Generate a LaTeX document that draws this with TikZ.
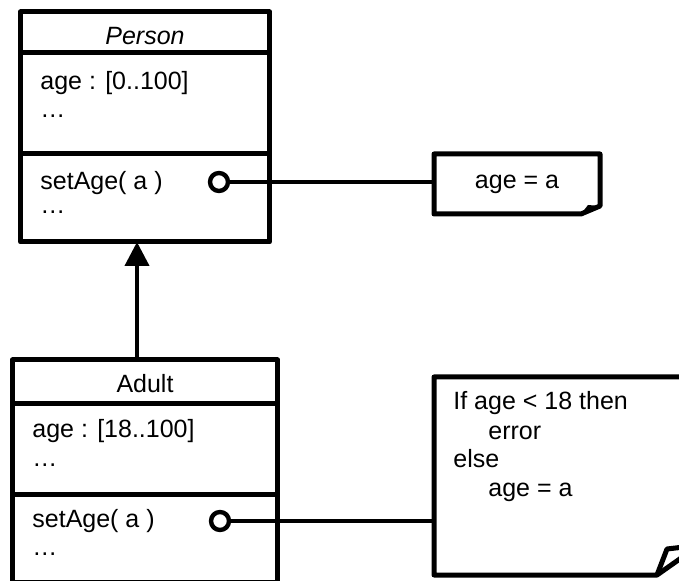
\documentclass[tikz,border=0pt]{standalone}
\usepackage{fontspec}
\setmainfont{Liberation Sans}
\usepackage{tikz}
\usetikzlibrary{arrows.meta}
\newcommand{\umlfont}{\fontsize{12.5pt}{14.5pt}\selectfont}
\tikzstyle{compartment}=[draw, line width=2.5pt, anchor=north west, inner sep=0, outer sep=0]
\tikzstyle{member}=[anchor=base west, inner sep=0]
\tikzstyle{classname}=[anchor=base, inner sep=0]
\tikzstyle{port}=[draw, circle, fill=white, line width=2.2pt, minimum size=9pt, inner sep=0, outer sep=0]
\tikzstyle{notebox}=[inner sep=0, outer sep=0]
\tikzstyle{link}=[line width=2pt]
\tikzstyle{classdiagram}=[x=0.5pt, y=-0.5pt, line join=round,
                          % Same font for every label.
                          every node/.style={font=\umlfont}]

\begin{document}
\begin{tikzpicture}[classdiagram]
    \useasboundingbox (0,0) rectangle (679,581);
    % Person
    \node[compartment, minimum width=124.5pt, minimum height=20.25pt] (personName) at (20.5,12) {};
    \node[compartment, minimum width=124.5pt, minimum height=50.75pt] (personAttr) at (20.5,52.5) {};
    \node[compartment, minimum width=124.5pt, minimum height=44pt]    (personOps) at (20.5,154) {};
    \node[classname] (personTitle) at (145,45) {\textit{Person}};
    \node[member] (personAge) at (40,90) {age : [0..100]};
    \node[member] (personMore) at (40,118) {…};
    \node[member] (personSet) at (40,190) {setAge( a )};
    \node[member] (personOpsMore) at (40,214) {…};
    % Adult
    \node[compartment, minimum width=132.5pt, minimum height=22pt]    (adultName) at (12.5,360) {};
    \node[compartment, minimum width=132.5pt, minimum height=45.25pt] (adultAttr) at (12.5,404) {};
    \node[compartment, minimum width=132.5pt, minimum height=43.75pt] (adultOps) at (12.5,494.5) {};
    \node[classname] (adultTitle) at (145,393) {Adult};
    \node[member] (adultAge) at (32,438) {age : [18..100]};
    \node[member] (adultMore) at (32,467) {…};
    \node[member] (adultSet) at (32,528) {setAge( a )};
    \node[member] (adultOpsMore) at (32,555) {…};
    % generalisation
    \coordinate (arrowX) at (137,0);
    \draw[link, -{Triangle[length=12pt, width=12pt]}] (adultName.north -| arrowX) -- (personOps.south -| arrowX);
    % notes
    \node[notebox, minimum width=83pt, minimum height=30pt] (noteOne) at (517,184) {age = a};
    \draw[line width=2.5pt] (noteOne.north west) -- (noteOne.north east) -- ([yshift=4pt]noteOne.south east)
        -- ([xshift=-9.5pt]noteOne.south east) -- (noteOne.south west) -- cycle;
    \fill ([yshift=4pt]noteOne.south east) -- ([xshift=-6pt, yshift=4.5pt]noteOne.south east)
        -- ([xshift=-9.5pt]noteOne.south east) -- cycle;
    \node[notebox, minimum width=125pt, minimum height=99pt] (noteTwo) at (559,476) {};
    \draw[line width=2.5pt] (noteTwo.north west) -- (noteTwo.north east) -- ([yshift=9.5pt]noteTwo.south east)
        -- ([xshift=-13.5pt]noteTwo.south east) -- (noteTwo.south west) -- cycle;
    \draw[line width=2.5pt] ([xshift=-13.5pt]noteTwo.south east) -- ([xshift=-8.5pt, yshift=13pt]noteTwo.south east)
        -- ([yshift=14pt]noteTwo.south east);
    \node[member] (ruleIf) at (453,410) {If age < 18 then};
    \node[member] (ruleError) at (488,440) {error};
    \node[member] (ruleElse) at (453,468) {else};
    \node[member] (ruleSet) at (488,497) {age = a};
    % ports
    \node[port] (personPort) at (219,182) {};
    \node[port] (adultPort) at (220,521) {};
    \draw[link] (personPort) -- (personPort -| noteOne.west);
    \draw[link] (adultPort) -- (adultPort -| noteTwo.west);
\end{tikzpicture}
\end{document}
